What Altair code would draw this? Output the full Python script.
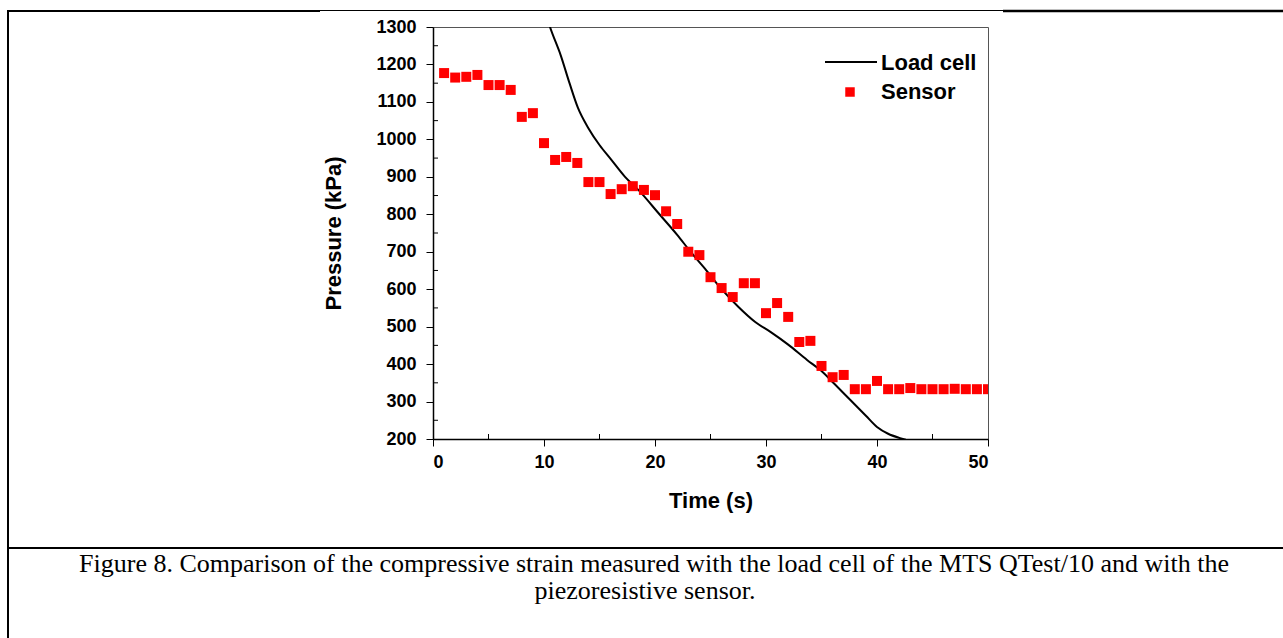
import altair as alt
import pandas as pd

# Sensor data (time s, pressure kPa)
sensor_t = list(range(1, 51))
sensor_p = [1177, 1165, 1167, 1172, 1145, 1145, 1132, 1060, 1070, 990,
            945, 953, 937, 886, 886, 854, 867, 875, 865, 851,
            808, 774, 700, 691, 632, 603, 579, 616, 616, 536,
            563, 526, 459, 462, 395, 365, 371, 333, 333, 355,
            333, 333, 336, 333, 333, 333, 334, 333, 333, 333]

# Load cell curve (time s, pressure kPa)
load_t = [10.3, 10.54, 11.5, 12.3, 13.06, 14.0, 15.0, 16.0, 17.3, 18.5, 20.4,
          22.0, 23.2, 24.5, 26.0, 27.5, 29.0, 30.4, 32.0, 33.7, 34.9, 36.2,
          37.6, 39.0, 40.0, 41.0, 42.0, 42.6]
load_p = [1322, 1300, 1225, 1150, 1084, 1030, 985, 948, 900, 865, 800,
          745, 700, 655, 600, 553, 513, 486, 452, 411, 384, 346,
          304, 262, 232, 214, 203, 198]

x_major = [0, 10, 20, 30, 40, 50]
x_minor = [5, 15, 25, 35, 45]
y_major = [200, 300, 400, 500, 600, 700, 800, 900, 1000, 1100, 1200, 1300]
y_minor = [250, 350, 450, 550, 650, 750, 850, 950, 1050, 1150, 1250]

W, H = 555, 412
OX, OY = 433, 27  # plot origin on page

sensor_df = pd.DataFrame({"t": sensor_t, "p": sensor_p})
load_df = pd.DataFrame({"t": load_t, "p": load_p})
dummy = pd.DataFrame({"a": [0]})

xscale = alt.Scale(domain=[0, 50], nice=False, zero=False)
yscale = alt.Scale(domain=[200, 1300], nice=False, zero=False)

xaxis = alt.Axis(values=x_major, title="Time (s)", format="d", grid=False,
                 tickSize=7, tickColor="black", domainColor="black", domainWidth=1.5,
                 labelFont="Liberation Sans", labelFontWeight="bold", labelFontSize=18,
                 labelColor="black", labelPadding=7, labelOverlap=False,
                 titleFont="Liberation Sans", titleFontWeight="bold", titleFontSize=22,
                 titleColor="black", titlePadding=19)
yaxis = alt.Axis(values=y_major, title="Pressure (kPa)", format="d", grid=False,
                 tickSize=7, tickColor="black", domainColor="black", domainWidth=1.5,
                 labelFont="Liberation Sans", labelFontWeight="bold", labelFontSize=18,
                 labelColor="black", labelPadding=10, labelOverlap=False,
                 titleFont="Liberation Sans", titleFontWeight="bold", titleFontSize=22,
                 titleColor="black", titlePadding=30)

X = alt.X("t:Q", scale=xscale, axis=xaxis)
Y = alt.Y("p:Q", scale=yscale, axis=yaxis)

line = alt.Chart(load_df).mark_line(color="black", strokeWidth=2, clip=True,
                                    interpolate="monotone").encode(x=X, y=Y)

points = alt.Chart(sensor_df).mark_square(color="#ff0000", size=100, opacity=1,
                                          clip=True).encode(x=X, y=Y)

xminor = alt.Chart(pd.DataFrame({"t": x_minor})).mark_rule(color="black", strokeWidth=1).encode(
    x=X, y=alt.value(H), y2=alt.value(H - 5))
yminor = alt.Chart(pd.DataFrame({"p": y_minor})).mark_rule(color="black", strokeWidth=1).encode(
    y=Y, x=alt.value(0), x2=alt.value(5))

# Legend
leg_line = alt.Chart(dummy).mark_rule(color="black", strokeWidth=2).encode(
    x=alt.value(825 - OX), x2=alt.value(877 - OX), y=alt.value(62 - OY))
leg_sq = alt.Chart(dummy).mark_square(color="#ff0000", size=90, opacity=1).encode(
    x=alt.value(850 - OX), y=alt.value(92 - OY))
leg_t1 = alt.Chart(dummy).mark_text(text="Load cell", align="left", baseline="middle",
                                    font="Liberation Sans", fontWeight="bold",
                                    fontSize=22, color="black").encode(
    x=alt.value(881 - OX), y=alt.value(63 - OY))
leg_t2 = alt.Chart(dummy).mark_text(text="Sensor", align="left", baseline="middle",
                                    font="Liberation Sans", fontWeight="bold",
                                    fontSize=22, color="black").encode(
    x=alt.value(881 - OX), y=alt.value(92 - OY))

# Page frame lines
def hrule(x1, x2, y, w):
    return alt.Chart(dummy).mark_rule(color="black", strokeWidth=w).encode(
        x=alt.value(x1 - OX), x2=alt.value(x2 - OX), y=alt.value(y - OY))

frame = [
    alt.Chart(dummy).mark_rule(color="black", strokeWidth=2).encode(
        x=alt.value(8 - OX), y=alt.value(10 - OY), y2=alt.value(638 - OY)),
    hrule(7, 320, 11, 2),
    hrule(320, 1003, 10.5, 1),
    hrule(1003, 1283, 11, 2.5),
    hrule(7, 1283, 548, 2),
]

cap1 = alt.Chart(dummy).mark_text(
    text="Figure 8. Comparison of the compressive strain measured with the load cell of the MTS QTest/10 and with the",
    align="center", baseline="middle", font="Liberation Serif", fontSize=26, color="black").encode(
    x=alt.value(654 - OX), y=alt.value(564 - OY))
cap2 = alt.Chart(dummy).mark_text(
    text="piezoresistive sensor.",
    align="center", baseline="middle", font="Liberation Serif", fontSize=26, color="black").encode(
    x=alt.value(645 - OX), y=alt.value(591 - OY))

chart = alt.layer(line, points, xminor, yminor, leg_line, leg_sq, leg_t1, leg_t2,
                  *frame, cap1, cap2).properties(
    width=W, height=H,
    autosize=alt.AutoSizeParams(type="none"),
    padding={"left": OX, "top": OY, "right": 1283 - OX - W, "bottom": 638 - OY - H},
    background="white",
).configure_view(stroke="#555555", strokeWidth=1)

chart.save("out.html", embed_options={"renderer": "svg", "actions": False})
